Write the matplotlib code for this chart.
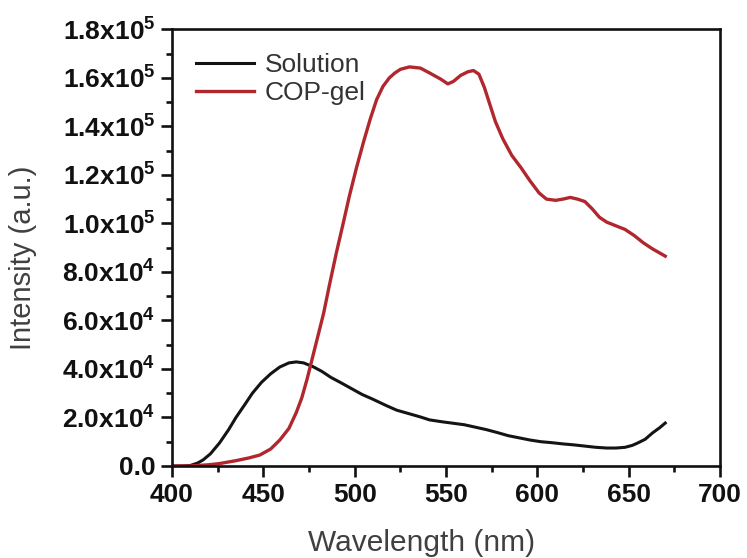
import matplotlib
matplotlib.use("Agg")
import matplotlib.pyplot as plt
from matplotlib.ticker import MultipleLocator, FuncFormatter
import math

plt.rcParams['font.family'] = ['Liberation Sans', 'DejaVu Sans']
plt.rcParams['mathtext.fontset'] = 'custom'
plt.rcParams['mathtext.rm'] = 'Liberation Sans'
plt.rcParams['mathtext.bf'] = 'Liberation Sans:bold'
plt.rcParams['mathtext.it'] = 'Liberation Sans:italic'

# Solution
sol_wl = [400, 405, 410, 414, 417, 421, 426, 431, 435, 440, 444, 449, 454, 459, 464, 468,
          472, 477, 482, 487, 492, 498, 504, 510, 517, 523, 530, 536, 541, 548, 555, 560,
          566, 572, 578, 584, 590, 596, 602, 608, 614, 620, 626, 632, 638, 643, 648, 652,
          655, 659, 663, 667, 670]
sol_int = [0, 0, 200, 1200, 2500, 5000, 9500, 15000, 20000, 25500, 30000, 34500, 38000,
           40800, 42500, 42900, 42500, 41000, 39000, 36500, 34500, 32000, 29500, 27500,
           25000, 23000, 21500, 20200, 19000, 18200, 17500, 17000, 16000, 15000, 13800,
           12500, 11600, 10700, 10000, 9600, 9100, 8700, 8200, 7700, 7400, 7400, 7700,
           8500, 9500, 11000, 13600, 15800, 17700]

# COP-gel
gel_wl = [400, 410, 420, 426, 435, 442, 448, 454, 459, 464, 468, 471, 474, 477, 480, 483,
          486, 490, 494, 497, 501, 505, 508.5, 512, 515.5, 519, 522, 525, 530, 536, 541,
          547, 551, 554, 558, 562, 565, 568, 571, 574, 577, 581, 586, 591, 596, 601, 605,
          610, 614, 618, 622, 626, 630, 634, 638, 643, 648, 653, 658, 663, 670]
gel_int = [0, 0, 500, 1000, 2200, 3300, 4500, 7000, 10700, 15500, 22000, 28000, 36000,
           45000, 54000, 63000, 74000, 88000, 101000, 111000, 123000, 134000, 143000,
           151000, 156500, 160000, 162000, 163500, 164500, 164000, 162000, 159500, 157500,
           158500, 161000, 162500, 163000, 161500, 156000, 149000, 142000, 135000, 128000,
           123000, 117500, 112500, 110000, 109500, 110000, 110700, 110000, 109000, 106000,
           102500, 100500, 99000, 97500, 95000, 92000, 89500, 86500]

series_labels = ['Solution', 'COP-gel']
x_ticks = [400, 450, 500, 550, 600, 650, 700]
y_ticks = [0, 20000, 40000, 60000, 80000, 100000, 120000, 140000, 160000, 180000]

fig = plt.figure(figsize=(7.47, 5.58), dpi=100)
ax = fig.add_axes([0.2303, 0.1649, 0.9639 - 0.2303, 0.9475 - 0.1649])

ax.plot(sol_wl, sol_int, color='#141414', lw=2.2, label=series_labels[0])
ax.plot(gel_wl, gel_int, color='#b0282e', lw=2.4, label=series_labels[1])

ax.set_xlim(400, 700)
ax.set_ylim(0, 180000)
ax.set_xticks(x_ticks)
ax.xaxis.set_minor_locator(MultipleLocator(25))
ax.set_yticks(y_ticks)
ax.yaxis.set_minor_locator(MultipleLocator(10000))


def fmt(v, pos):
    if v <= 0:
        return '0.0'
    e = int(math.floor(math.log10(v) + 1e-9))
    m = v / 10 ** e
    return r'$\mathbf{%.1fx10^{%d}}$' % (m, e)


ax.yaxis.set_major_formatter(FuncFormatter(fmt))

for s in ax.spines.values():
    s.set_linewidth(1.9)
    s.set_color('#111111')

ax.tick_params(axis='both', which='major', direction='out', length=8, width=1.9,
               labelsize=19, colors='#111111', pad=4, top=False, right=False)
ax.tick_params(axis='both', which='minor', direction='out', length=4.5, width=1.9,
               colors='#111111', top=False, right=False)
for lab in ax.get_xticklabels() + ax.get_yticklabels():
    lab.set_fontweight('bold')

ax.set_xlabel('Wavelength (nm)', fontsize=21.5, color='#404040')
ax.set_ylabel('Intensity (a.u.)', fontsize=21, color='#404040')
ax.xaxis.set_label_coords(0.455, -0.145)
ax.yaxis.set_label_coords(-0.246, 0.477)

leg = ax.legend(loc='upper left', frameon=False, fontsize=19, handlelength=2.2,
                handletextpad=0.4, labelspacing=0.15, borderaxespad=0.5,
                bbox_to_anchor=(0.0, 1.0))
for t in leg.get_texts():
    t.set_color('#333333')

fig.savefig('out.png', dpi=100)
